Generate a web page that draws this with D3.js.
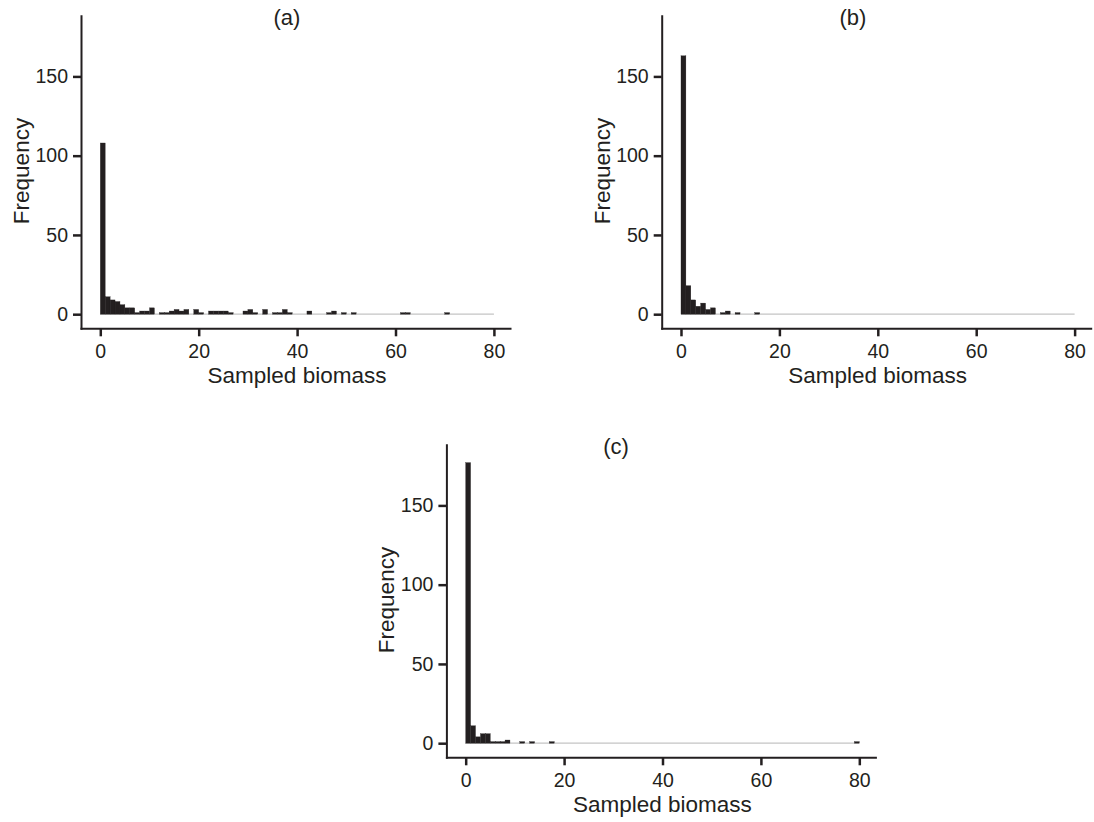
<!DOCTYPE html>
<html>
<head>
<meta charset="utf-8">
<script src="https://cdn.jsdelivr.net/npm/d3@7"></script>
<style>
  body { margin: 0; background: #fff; }
  svg { display: block; font-family: "Liberation Sans", Arial, Helvetica, sans-serif; }
  .axis path, .axis line { stroke: #231f20; stroke-width: 2; stroke-linecap: square; }
  .axis line { stroke-width: 2.5; stroke-linecap: butt; }
  .axis text { fill: #231f20; font-size: 19.5px; }
</style>
</head>
<body>
<svg id="chart" width="1094" height="822"></svg>
<script>
// histogram bins: width 1, starting at 0 (bins 0..79)
const binStart = 0;
const binWidth = 1;
const xTicks = [0, 20, 40, 60, 80];
const yTicks = [0, 50, 100, 150];

const countsA = [
  108, 11, 9, 8, 6, 4, 4, 1, 2, 2,
  4, 0, 1, 1, 2, 3, 2, 3, 0, 3,
  1, 0, 2, 2, 2, 2, 1, 0, 0, 2,
  3, 1, 0, 3, 0, 1, 1, 3, 1, 0,
  0, 0, 2, 0, 0, 0, 1, 2, 0, 1,
  0, 1, 0, 0, 0, 0, 0, 0, 0, 0,
  0, 1, 1, 0, 0, 0, 0, 0, 0, 0,
  1, 0, 0, 0, 0, 0, 0, 0, 0, 0
];
const countsB = [
  163, 18, 9, 5, 7, 3, 4, 0, 1, 2,
  0, 1, 0, 0, 0, 1, 0, 0, 0, 0,
  0, 0, 0, 0, 0, 0, 0, 0, 0, 0,
  0, 0, 0, 0, 0, 0, 0, 0, 0, 0,
  0, 0, 0, 0, 0, 0, 0, 0, 0, 0,
  0, 0, 0, 0, 0, 0, 0, 0, 0, 0,
  0, 0, 0, 0, 0, 0, 0, 0, 0, 0,
  0, 0, 0, 0, 0, 0, 0, 0, 0, 0
];
const countsC = [
  177, 11, 4, 6, 6, 1, 1, 1, 2, 0,
  0, 1, 0, 1, 0, 0, 0, 1, 0, 0,
  0, 0, 0, 0, 0, 0, 0, 0, 0, 0,
  0, 0, 0, 0, 0, 0, 0, 0, 0, 0,
  0, 0, 0, 0, 0, 0, 0, 0, 0, 0,
  0, 0, 0, 0, 0, 0, 0, 0, 0, 0,
  0, 0, 0, 0, 0, 0, 0, 0, 0, 0,
  0, 0, 0, 0, 0, 0, 0, 0, 0, 1
];

const panels = [
  { label: "(a)", counts: countsA, dx: 0,     dy: 0,   titleX: 287 },
  { label: "(b)", counts: countsB, dx: 580.7, dy: 0,   titleX: 853 },
  { label: "(c)", counts: countsC, dx: 365.4, dy: 429, titleX: 616 }
];

const svg = d3.select("#chart");
const ink = "#231f20";

function drawPanel(p) {
  const g = svg.append("g").attr("transform", `translate(${p.dx},${p.dy})`);

  // same scales for every panel
  let x = d3.scaleLinear().domain([-3.92, 83.27]).range([81, 510]);
  let y = d3.scaleLinear().domain([-8.9, 188.3]).range([328.3, 15.7]);

  const bins = p.counts.map((c, i) => ({ x0: binStart + i * binWidth, x1: binStart + (i + 1) * binWidth, count: c }));

  // grey baseline for empty bins
  g.append("line")
    .attr("x1", x(binStart))
    .attr("x2", x(binStart + p.counts.length * binWidth))
    .attr("y1", y(0))
    .attr("y2", y(0))
    .attr("stroke", "#c4c4c4")
    .attr("stroke-width", 1.2);

  g.selectAll("rect.bar")
    .data(bins.filter(d => d.count > 0))
    .enter()
    .append("rect")
    .attr("class", "bar")
    .attr("x", d => x(d.x0))
    .attr("y", d => y(d.count))
    .attr("width", d => x(d.x1) - x(d.x0))
    .attr("height", d => y(0) - y(d.count))
    .attr("fill", ink)
    .attr("stroke", ink)
    .attr("stroke-width", 0.3);

  g.append("g")
    .attr("class", "axis")
    .attr("transform", "translate(0,328.3)")
    .call(d3.axisBottom(x).tickValues(xTicks).tickSize(8).tickSizeOuter(0).tickPadding(8));

  g.append("g")
    .attr("class", "axis")
    .attr("transform", "translate(81,0)")
    .call(d3.axisLeft(y).tickValues(yTicks).tickSize(8).tickSizeOuter(0).tickPadding(5));

  g.append("text")
    .attr("x", 297)
    .attr("y", 383)
    .attr("text-anchor", "middle")
    .attr("fill", ink)
    .style("font-size", "22.5px")
    .text("Sampled biomass");

  g.append("text")
    .attr("transform", "translate(29,171) rotate(-90)")
    .attr("text-anchor", "middle")
    .attr("fill", ink)
    .style("font-size", "22.5px")
    .text("Frequency");

  svg.append("text")
    .attr("x", p.titleX)
    .attr("y", p.dy + 25)
    .attr("text-anchor", "middle")
    .attr("fill", ink)
    .style("font-size", "22px")
    .text(p.label);
}

panels.forEach(drawPanel);
</script>
</body>
</html>
